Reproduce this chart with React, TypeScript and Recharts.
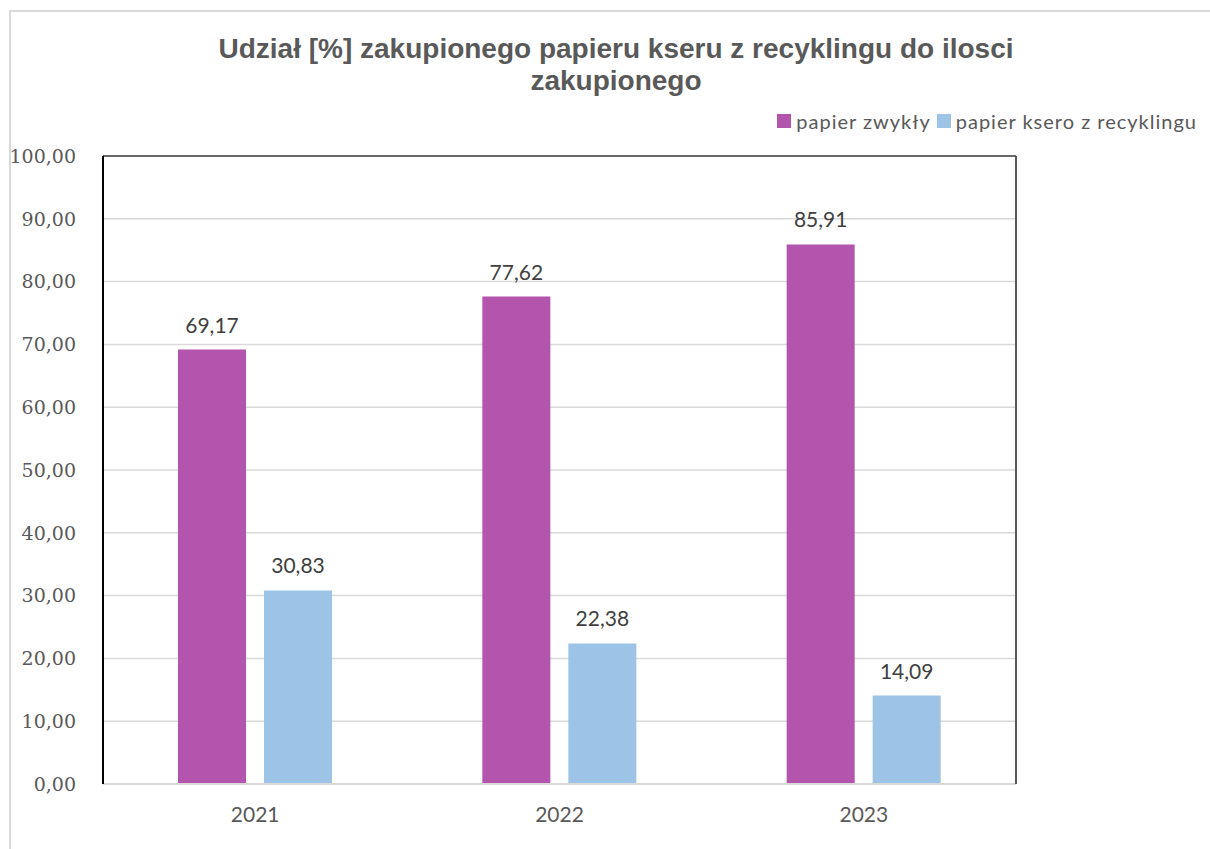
import { BarChart, Bar, XAxis, YAxis, CartesianGrid, LabelList, ReferenceLine } from 'recharts';

const years = ['2021', '2022', '2023'];
const zwykly = [69.17, 77.62, 85.91];
const recykling = [30.83, 22.38, 14.09];
const yTicks = [0, 10, 20, 30, 40, 50, 60, 70, 80, 90, 100];
const seriesNames = ['papier zwykły', 'papier ksero z recyklingu'];
const seriesColors = ['#b455ad', '#9dc3e6'];

const data = years.map((year, i) => ({ year, zwykly: zwykly[i], recykling: recykling[i] }));

const fmt = (v: number) => v.toFixed(2).replace('.', ',');

const labelStyle = { fill: '#404040', fontSize: 21, fontFamily: 'Lato, sans-serif' };

const App = () => {
  return (
    <div style={{ position: 'absolute', left: 0, top: 0, width: 1210, height: 849, background: '#fff', overflow: 'hidden' }}>
      <div
        style={{
          position: 'absolute',
          left: 9,
          top: 10,
          width: 1210,
          height: 860,
          border: '2px solid #d9d9d9',
        }}
      />
      <div
        style={{
          position: 'absolute',
          left: 216,
          width: 800,
          top: 33,
          textAlign: 'center',
          fontFamily: '"Liberation Sans", Arial, sans-serif',
          fontWeight: 'bold',
          fontSize: 28,
          lineHeight: '32px',
          color: '#595959',
        }}
      >
        Udział [%] zakupionego papieru kseru z recyklingu do ilosci
        <br />
        zakupionego
      </div>
      <div
        style={{
          position: 'absolute',
          right: 13,
          top: 109,
          display: 'flex',
          alignItems: 'center',
          fontFamily: 'Lato, sans-serif',
          fontSize: 20,
          letterSpacing: 1,
          color: '#595959',
          lineHeight: '24px',
        }}
      >
        {seriesNames.map((name, i) => (
          <span key={name} style={{ display: 'flex', alignItems: 'center', marginLeft: i ? 6 : 0 }}>
            <span style={{ width: 14, height: 14, background: seriesColors[i], marginRight: 5, display: 'inline-block' }} />
            {name}
          </span>
        ))}
      </div>
      <BarChart
        width={1210}
        height={849}
        data={data}
        margin={{ top: 156, right: 193, bottom: 0, left: 13 }}
        barSize={68}
        barGap={18}
        style={{ position: 'absolute', left: 0, top: 0 }}
      >
        <CartesianGrid vertical={false} stroke="#d9d9d9" strokeWidth={1.5} />
        <XAxis
          dataKey="year"
          height={65}
          axisLine={{ stroke: '#d9d9d9', strokeWidth: 2 }}
          tickLine={false}
          tickMargin={17}
          tick={{ fill: '#595959', fontSize: 21, fontFamily: 'Lato, sans-serif' }}
        />
        <YAxis
          domain={[0, 100]}
          ticks={yTicks}
          width={90}
          interval={0}
          axisLine={{ stroke: '#000', strokeWidth: 2 }}
          tickLine={false}
          tickMargin={21}
          tickFormatter={fmt}
          tick={{ fill: '#595959', fontSize: 19, fontFamily: '"DejaVu Serif", serif' }}
        />
        <YAxis
          yAxisId="right"
          orientation="right"
          domain={[0, 100]}
          width={1}
          tick={false}
          axisLine={{ stroke: '#595959', strokeWidth: 2 }}
          tickLine={false}
        />
        <ReferenceLine y={100} stroke="#404040" strokeWidth={1.5} />
        <Bar dataKey="zwykly" name={seriesNames[0]} fill={seriesColors[0]} isAnimationActive={false}>
          <LabelList dataKey="zwykly" position="top" offset={17} formatter={(v: any) => fmt(Number(v))} style={labelStyle} />
        </Bar>
        <Bar dataKey="recykling" name={seriesNames[1]} fill={seriesColors[1]} isAnimationActive={false}>
          <LabelList dataKey="recykling" position="top" offset={17} formatter={(v: any) => fmt(Number(v))} style={labelStyle} />
        </Bar>
      </BarChart>
    </div>
  );
};

export default App;
